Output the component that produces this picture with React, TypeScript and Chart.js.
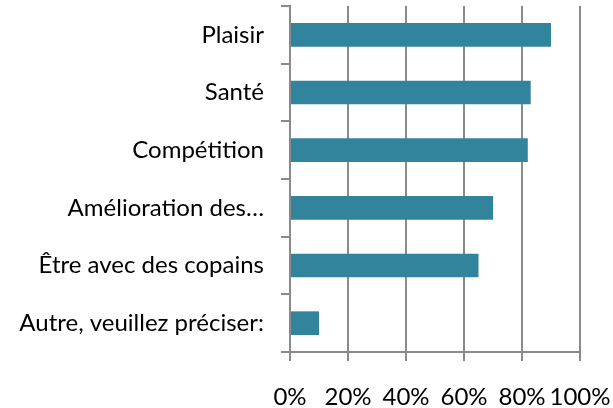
import React, { useEffect, useRef } from "react";
import { Chart, registerables } from "chart.js";

Chart.register(...registerables);

const categories = [
  "Plaisir",
  "Santé",
  "Compétition",
  "Amélioration des…",
  "Être avec des copains",
  "Autre, veuillez préciser:",
];
const values = [90, 83, 82, 70, 65, 10];
const xTicks = [0, 20, 40, 60, 80, 100];

const FONT = "Lato, 'Open Sans', sans-serif";
const GRID = "#8a8a8a";

export default function App() {
  const ref = useRef<HTMLCanvasElement | null>(null);
  useEffect(() => {
    if (!ref.current) return;
    const chart = new Chart(ref.current, {
      type: "bar",
      data: {
        labels: categories,
        datasets: [
          {
            data: values,
            backgroundColor: "#31849b",
            borderWidth: 0,
            categoryPercentage: 1,
            barPercentage: 0.41,
          },
        ],
      },
      options: {
        indexAxis: "y",
        responsive: false,
        animation: false,
        devicePixelRatio: 1,
        layout: { padding: { top: 6, right: 33, left: 0, bottom: 0 } },
        plugins: { legend: { display: false }, tooltip: { enabled: false } },
        scales: {
          x: {
            min: xTicks[0],
            max: xTicks[xTicks.length - 1],
            afterBuildTicks: (scale: any) => {
              scale.ticks = xTicks.map((v) => ({ value: v }));
            },
            afterFit: (scale: any) => {
              scale.height = 56;
              scale.paddingLeft = 0;
              scale.paddingRight = 0;
            },
            ticks: {
              callback: (v: any) => v + "%",
              color: "#000",
              font: { family: FONT, size: 24 },
              padding: 22,
              maxRotation: 0,
              autoSkip: false,
            },
            grid: {
              color: GRID,
              lineWidth: 2,
              tickLength: 9,
              drawOnChartArea: true,
            },
            border: { display: true, color: GRID, width: 2 },
          },
          y: {
            afterFit: (scale: any) => {
              scale.width = 290;
              scale.paddingTop = 0;
              scale.paddingBottom = 0;
            },
            ticks: {
              color: "#000",
              font: { family: FONT, size: 24 },
              padding: 17,
              autoSkip: false,
            },
            grid: {
              offset: true,
              color: GRID,
              lineWidth: 2,
              tickLength: 9,
              drawOnChartArea: false,
            },
            border: { display: true, color: GRID, width: 2 },
          },
        },
      },
    });
    return () => chart.destroy();
  }, []);
  return (
    <div style={{ position: "fixed", left: 0, top: 0, width: 613, height: 408, background: "#fff" }}>
      <canvas ref={ref} width={613} height={408} />
    </div>
  );
}
